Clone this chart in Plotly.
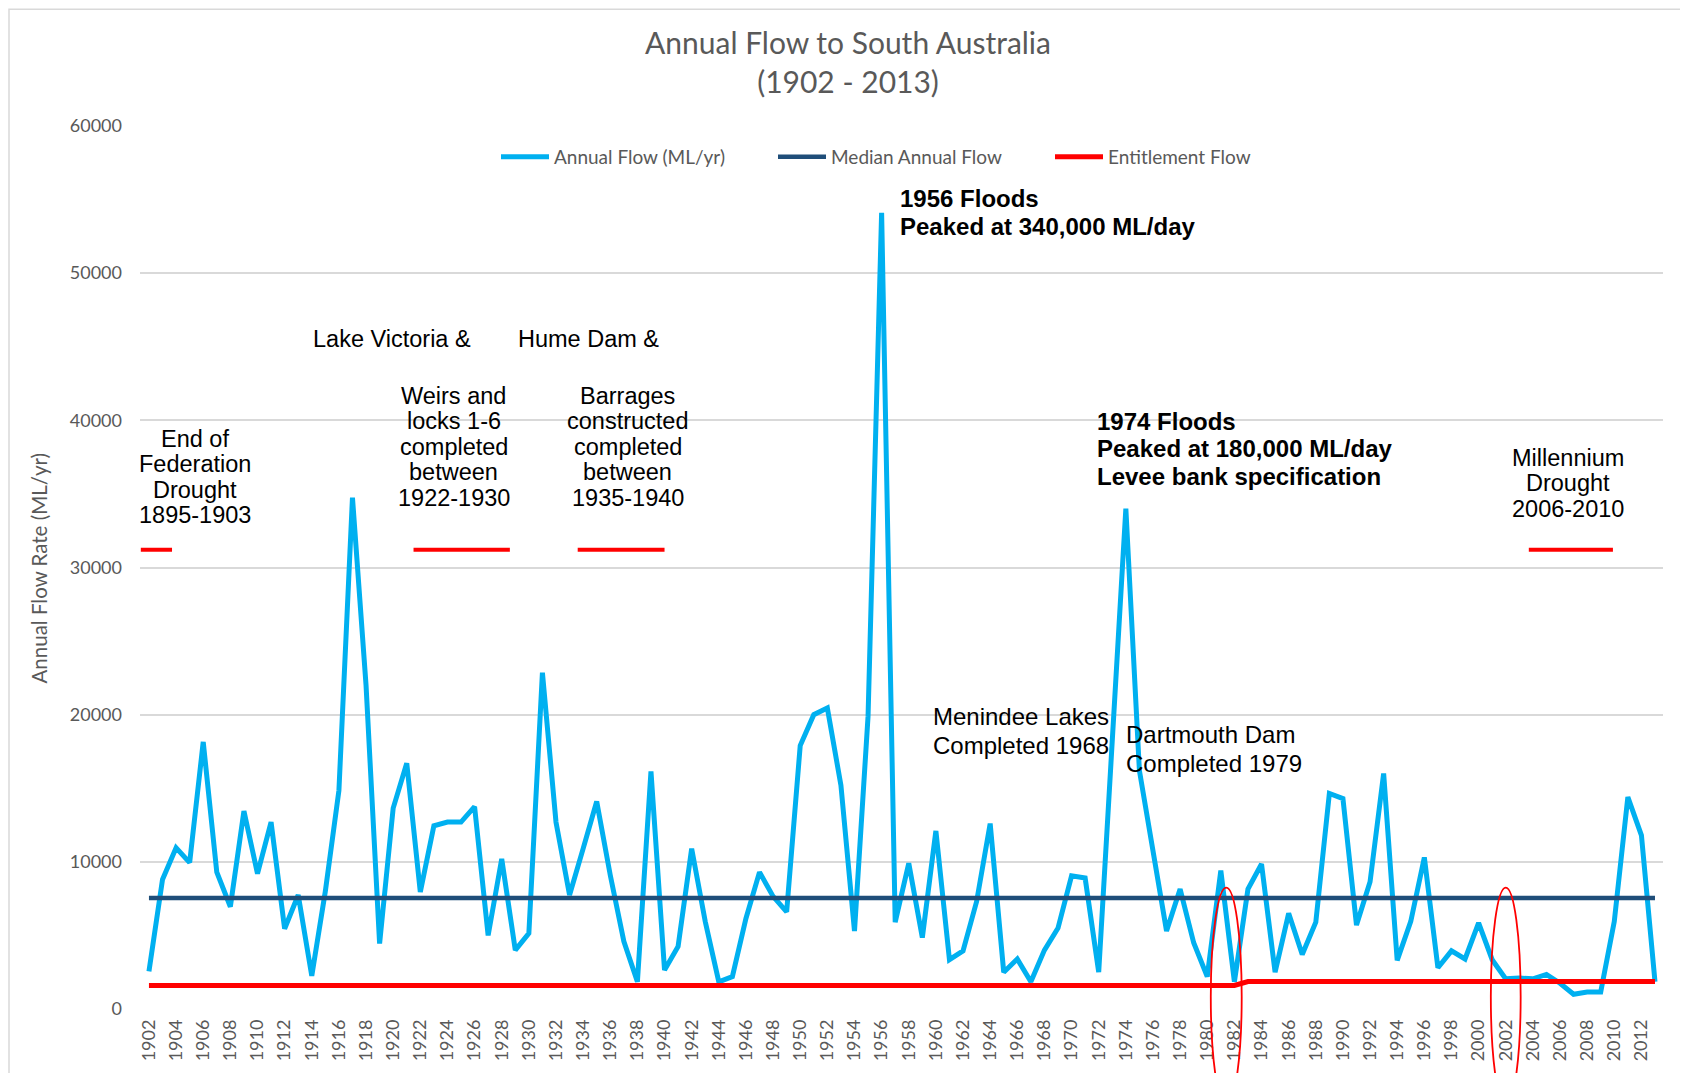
import plotly.graph_objects as go

# ---------------- data ----------------
years = list(range(1902, 2014))
annual_flow = [
    2550, 8800, 10950, 9950, 18150, 9300, 6950, 13450, 9200, 12700,      # 1902-1911
    5450, 7750, 2250, 8000, 14850, 34750, 22000, 4450, 13650, 16700,     # 1912-1921
    7950, 12450, 12700, 12700, 13750, 5000, 10200, 4000, 5150, 22850,    # 1922-1931
    12700, 7750, 10900, 14100, 9100, 4600, 1850, 16150, 2650, 4250,      # 1932-1941
    10900, 5950, 1850, 2200, 6150, 9300, 7650, 6600, 17900, 20000,       # 1942-1951
    20450, 15200, 5300, 19900, 54100, 5900, 9900, 4850, 12100, 3350,     # 1952-1961
    3950, 7300, 12600, 2500, 3400, 1850, 4000, 5500, 9050, 8900,         # 1962-1971
    2500, 18200, 34000, 16200, 10800, 5300, 8150, 4500, 2200, 9400,      # 1972-1981
    1850, 8150, 9850, 2500, 6500, 3700, 5900, 14650, 14300, 5700,        # 1982-1991
    8650, 16000, 3300, 5950, 10300, 2800, 3950, 3400, 5850, 3350,        # 1992-2001
    2050, 2100, 2050, 2350, 1750, 1000, 1150, 1150, 5950, 14400,         # 2002-2011
    11800, 1850,                                                         # 2012-2013
]
median_value = 7550
median_flow = [median_value] * len(years)
entitlement_before, entitlement_after, entitlement_change_year = 1600, 1870, 1983
entitlement_flow = [entitlement_before if y < entitlement_change_year else entitlement_after for y in years]

tick_years = years[::2]
tick_labels = [str(y) for y in tick_years]
y_ticks = [0, 10000, 20000, 30000, 40000, 50000, 60000]
y_tick_labels = [str(v) for v in y_ticks]

# drought period markers (red bars under the text notes)
drought_start = [1901.4, 1921.5, 1933.6, 2003.7]
drought_end = [1903.7, 1928.6, 1940.0, 2009.9]
drought_level = 31200

# hand-drawn red ellipses
ellipse_center = [1981.4, 2002.0]
ellipse_halfwidth = [1.14, 1.10]
ellipse_top = 8250
ellipse_bottom = -6600

assert len(annual_flow) == len(years)

# ---------------- layout constants ----------------
OFF = 8                      # default body margin of the html page
W, H = 1688 - OFF, 1073 - OFF
ML, MT = 140 - OFF, 126 - OFF
PW, PH = 1523, 885
MR, MB = W - ML - PW, H - MT - PH
X0, X1 = 1901.34, 2013.59
Y0, Y1 = 0, 60000

GREY = "#595959"
AXFONT = "Lato, 'Open Sans', sans-serif"
ANFONT = "'Liberation Sans', Arial, sans-serif"


def xd(year):
    return (year - X0) / (X1 - X0)


def yd(v):
    return (v - Y0) / (Y1 - Y0)


fig = go.Figure()
fig.add_trace(go.Scatter(x=years, y=annual_flow, mode="lines", name="Annual Flow (ML/yr)",
                         line=dict(color="#00B0F0", width=5)))
fig.add_trace(go.Scatter(x=years, y=median_flow, mode="lines", name="Median Annual Flow",
                         line=dict(color="#1F4E79", width=4.5)))
fig.add_trace(go.Scatter(x=years, y=entitlement_flow, mode="lines", name="Entitlement Flow",
                         line=dict(color="#FF0000", width=5)))

shapes = []
# chart frame (light grey)
shapes.append(dict(type="rect", xref="paper", yref="paper",
                   x0=(1 - ML) / PW, x1=1.2, y0=-0.3, y1=(MT - 1) / PH + 1,
                   line=dict(color="#d9d9d9", width=1.5), fillcolor="rgba(0,0,0,0)", layer="below"))
for s, e in zip(drought_start, drought_end):
    shapes.append(dict(type="line", xref="x", yref="y", x0=s, x1=e, y0=drought_level, y1=drought_level,
                       line=dict(color="#FF0000", width=4)))
for c, hw in zip(ellipse_center, ellipse_halfwidth):
    shapes.append(dict(type="circle", xref="x domain", yref="y domain",
                       x0=xd(c - hw), x1=xd(c + hw), y0=yd(ellipse_bottom), y1=yd(ellipse_top),
                       line=dict(color="#FF0000", width=1.8), fillcolor="rgba(0,0,0,0)"))

annotations = []


def block(lines, x, y, anchor, size, bold, spacing):
    for i, line in enumerate(lines):
        txt = f"<b>{line}</b>" if bold else line
        annotations.append(dict(x=x, y=y, xref="x", yref="y", text=txt, showarrow=False,
                                xanchor=anchor, yanchor="middle", yshift=-i * spacing,
                                font=dict(family=ANFONT, size=size, color="#000000")))


block(["End of", "Federation", "Drought", "1895-1903"], 1905.39, 38760, "center", 23.5, False, 25.6)
block(["Lake Victoria &"], 1919.94, 45560, "center", 23.5, False, 25.4)
block(["Hume Dam &"], 1934.39, 45560, "center", 23.5, False, 25.4)
block(["Weirs and", "locks 1-6", "completed", "between", "1922-1930"], 1924.46, 41650, "center", 23.5, False, 25.4)
block(["Barrages", "constructed", "completed", "between", "1935-1940"], 1937.27, 41650, "center", 23.5, False, 25.4)
block(["1956 Floods", "Peaked at 340,000 ML/day"], 1957.22, 55100, "left", 24, True, 28.3)
block(["1974 Floods", "Peaked at 180,000 ML/day", "Levee bank specification"], 1971.71, 39950, "left", 24, True, 27.8)
block(["Millennium", "Drought", "2006-2010"], 2006.59, 37470, "center", 23.5, False, 25.5)
block(["Menindee Lakes", "Completed 1968"], 1959.63, 19845, "left", 24, False, 28.4)
block(["Dartmouth Dam", "Completed 1979"], 1973.85, 18645, "left", 24, False, 29)

# y-axis title
annotations.append(dict(x=(38 - OFF - ML) / PW, y=0.5, xref="paper", yref="paper", text="Annual Flow Rate (ML/yr)",
                        showarrow=False, textangle=-90, xanchor="center", yanchor="middle",
                        font=dict(family=AXFONT, size=20.5, color=GREY)))

fig.update_layout(
    width=W, height=H,
    margin=dict(l=ML, r=MR, t=MT, b=MB),
    paper_bgcolor="white", plot_bgcolor="white",
    title=dict(text="Annual Flow to South Australia<br>(1902 - 2013)", x=(848 - OFF) / W, xanchor="center",
               y=1 - 46 / H, yanchor="middle",
               font=dict(family=AXFONT, size=30, color=GREY)),
    showlegend=True,
    legend=dict(orientation="h", x=(496 - OFF - ML) / PW, xanchor="left",
                y=(PH - (157 - 126)) / PH, yanchor="middle",
                font=dict(family=AXFONT, size=19, color=GREY), bgcolor="rgba(0,0,0,0)",
                itemwidth=48, entrywidth=214, entrywidthmode="pixels"),
    shapes=shapes,
    annotations=annotations,
)
fig.update_xaxes(range=[X0, X1], tickmode="array", tickvals=tick_years, ticktext=tick_labels,
                 tickangle=-90, showgrid=False, zeroline=False, showline=False, ticks="",
                 ticklabelstandoff=6,
                 tickfont=dict(family=AXFONT, size=18, color=GREY))
fig.update_yaxes(range=[Y0, Y1], tickmode="array", tickvals=y_ticks, ticktext=y_tick_labels,
                 showgrid=True, gridcolor="#d9d9d9", gridwidth=1.5, zeroline=False, showline=False,
                 ticks="", ticklabelstandoff=17,
                 tickfont=dict(family=AXFONT, size=18, color=GREY))

fig.write_html("out.html")
